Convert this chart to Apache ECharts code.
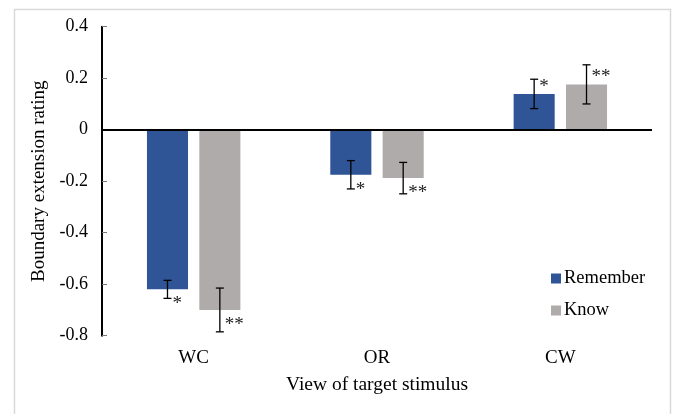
<!DOCTYPE html>
<html>
<head>
<meta charset="utf-8">
<script src="https://cdn.jsdelivr.net/npm/echarts@6/dist/echarts.min.js"></script>
<style>
html,body{margin:0;padding:0;background:#fff;}
#chart{width:674px;height:414px;}
</style>
</head>
<body>
<div id="chart"></div>
<script>
// ---- data ----
var categories = ['WC', 'OR', 'CW'];
var rememberValues = [-0.62, -0.175, 0.139];
var knowValues = [-0.70, -0.188, 0.176];
var rememberErrors = [0.035, 0.055, 0.057];
var knowErrors = [0.085, 0.061, 0.076];
var rememberSig = ['*', '*', '*'];
var knowSig = ['**', '**', '**'];
var yTicks = { min: -0.8, max: 0.4, interval: 0.2 };

// ---- style ----
var FONT = '"Liberation Serif", "Times New Roman", serif';
var BLUE = '#2F5597';
var GRAY = '#AFABAB';
var BAR_W = 0.224;   // fraction of category band
var BAR_GAP = 0.275; // fraction of bar width
var CAP = 4;

function errSeries(values, errors, sigs, side) {
  var data = values.map(function (v, i) { return [i, v, errors[i], sigs[i]]; });
  return {
    type: 'custom',
    silent: true,
    z: 5,
    data: data,
    renderItem: function (params, api) {
      var idx = api.value(0), v = api.value(1), e = api.value(2);
      var sig = data[params.dataIndex][3];
      var band = api.size([1, 0])[0];
      var off = side * band * BAR_W * (1 + BAR_GAP) / 2;
      var c = api.coord([idx, v]);
      var top = api.coord([idx, v + e]);
      var bot = api.coord([idx, v - e]);
      var x = c[0] + off;
      var sign = v < 0 ? 1 : -1;
      var ls = { stroke: '#000', lineWidth: 1.3 };
      return {
        type: 'group',
        children: [
          { type: 'line', shape: { x1: x, y1: top[1], x2: x, y2: bot[1] }, style: ls },
          { type: 'line', shape: { x1: x - CAP, y1: top[1], x2: x + CAP, y2: top[1] }, style: ls },
          { type: 'line', shape: { x1: x - CAP, y1: bot[1], x2: x + CAP, y2: bot[1] }, style: ls },
          { type: 'text', style: {
              text: sig, x: x + 5, y: c[1] + sign * 11 + 4,
              align: 'left', verticalAlign: 'middle',
              font: '19px ' + FONT, fill: '#222'
          } }
        ]
      };
    }
  };
}

var chart = echarts.init(document.getElementById('chart'), null, { renderer: 'canvas' });
chart.setOption({
  animation: false,
  backgroundColor: '#fff',
  graphic: [{
    type: 'rect', left: 12, top: 7, silent: true,
    shape: { width: 656, height: 420 },
    style: { fill: 'none', stroke: '#d9d9d9', lineWidth: 1.5 }
  }],
  grid: { left: 102, right: 22, top: 26.7, bottom: 78.3 },
  legend: {
    orient: 'vertical',
    left: 546, top: 264,
    itemWidth: 10, itemHeight: 10, itemGap: 13,
    icon: 'rect',
    data: ['Remember', 'Know'],
    textStyle: { fontFamily: FONT, fontSize: 18.5, color: '#000', padding: [0, 0, 0, -2] }
  },
  xAxis: {
    type: 'category',
    data: categories,
    axisLine: { show: false, onZero: false },
    axisTick: { show: false },
    axisLabel: { margin: 13, fontFamily: FONT, fontSize: 19, color: '#000' },
    name: 'View of target stimulus',
    nameLocation: 'middle',
    nameGap: 39,
    nameTextStyle: { fontFamily: FONT, fontSize: 19.5, color: '#000' }
  },
  yAxis: {
    type: 'value',
    min: yTicks.min, max: yTicks.max, interval: yTicks.interval,
    axisLine: { show: true, lineStyle: { color: '#000', width: 2 } },
    axisTick: { show: true, inside: true, length: 5, lineStyle: { color: '#777', width: 1 } },
    splitLine: { show: false },
    axisLabel: {
      margin: 14, fontFamily: FONT, fontSize: 18, color: '#000',
      formatter: function (v) { return Math.abs(v) < 1e-9 ? '0' : v.toFixed(1); }
    },
    name: 'Boundary extension rating',
    nameLocation: 'middle',
    nameGap: 49,
    nameTextStyle: { fontFamily: FONT, fontSize: 19, color: '#000' }
  },
  series: [
    {
      name: 'Remember', type: 'bar', data: rememberValues,
      barWidth: (BAR_W * 100) + '%', barGap: (BAR_GAP * 100) + '%',
      itemStyle: { color: BLUE },
      markLine: {
        silent: true, symbol: 'none', animation: false,
        label: { show: false },
        lineStyle: { color: '#000', width: 2, type: 'solid' },
        data: [{ yAxis: 0 }]
      }
    },
    {
      name: 'Know', type: 'bar', data: knowValues,
      barWidth: (BAR_W * 100) + '%', barGap: (BAR_GAP * 100) + '%',
      itemStyle: { color: GRAY }
    },
    errSeries(rememberValues, rememberErrors, rememberSig, -1),
    errSeries(knowValues, knowErrors, knowSig, 1)
  ]
});
</script>
</body>
</html>
